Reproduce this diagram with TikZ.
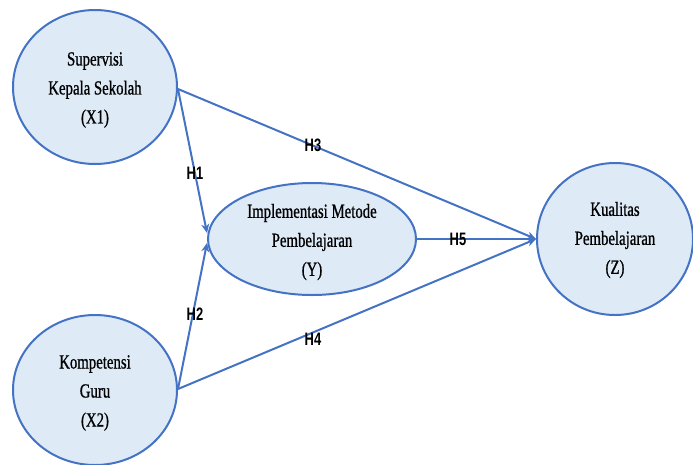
\documentclass[tikz,border=0pt]{standalone}
\usepackage{fontspec}
\setmainfont[FakeStretch=0.74,FakeBold=0.8]{Liberation Serif}
\newfontfamily\hfont[FakeStretch=0.72]{Liberation Sans}
\usetikzlibrary{shapes.geometric,arrows.meta}
\definecolor{edgeblue}{HTML}{4472C4}
\definecolor{fillblue}{HTML}{DEEBF7}
\tikzset{
  var/.style={ellipse, draw=edgeblue, line width=2pt, fill=fillblue, inner sep=0pt},
  vtext/.style={align=center, font=\fontsize{20}{29}\selectfont},
  link/.style={draw=edgeblue, line width=2pt, -{Stealth[length=9pt,width=8pt]}},
  hlab/.style={font=\hfont\bfseries\fontsize{18}{18}\selectfont, text=black, inner sep=0pt}
}
\begin{document}
\begin{tikzpicture}[x=1pt,y=-1pt]
\useasboundingbox (0,0) rectangle (693,464);
\node[var, minimum width=164pt, minimum height=154pt] (X1) at (95,87) {};
\node[var, minimum width=164pt, minimum height=150pt] (X2) at (95,390) {};
\node[var, minimum width=208pt, minimum height=112pt] (Y) at (312,239) {};
\node[var, minimum width=156pt, minimum height=152pt] (Z) at (615,239) {};
\node[vtext] (tX1) at (95,90) {Supervisi\\Kepala Sekolah\\(X1)};
\node[vtext] (tX2) at (95,393) {Kompetensi\\Guru\\(X2)};
\node[vtext] (tY) at (312,242) {Implementasi Metode\\Pembelajaran\\(Y)};
\node[vtext] (tZ) at (615,240) {Kualitas\\Pembelajaran\\(Z)};
\draw[link] ([yshift=-2pt]X1.east) -- ([yshift=6pt]Y.west);
\draw[link] ([yshift=1pt]X2.east) -- ([yshift=-4pt]Y.west);
\draw[link] ([yshift=-2pt]X1.east) -- (Z.west);
\draw[link] ([yshift=1pt]X2.east) -- (Z.west);
\draw[link] (Y.east) -- (Z.west);
\node[hlab] (h1) at (195,173) {H1};
\node[hlab] (h2) at (195,314) {H2};
\node[hlab] (h3) at (313,145) {H3};
\node[hlab] (h4) at (313,339) {H4};
\node[hlab] (h5) at (458,239) {H5};
\end{tikzpicture}
\end{document}
